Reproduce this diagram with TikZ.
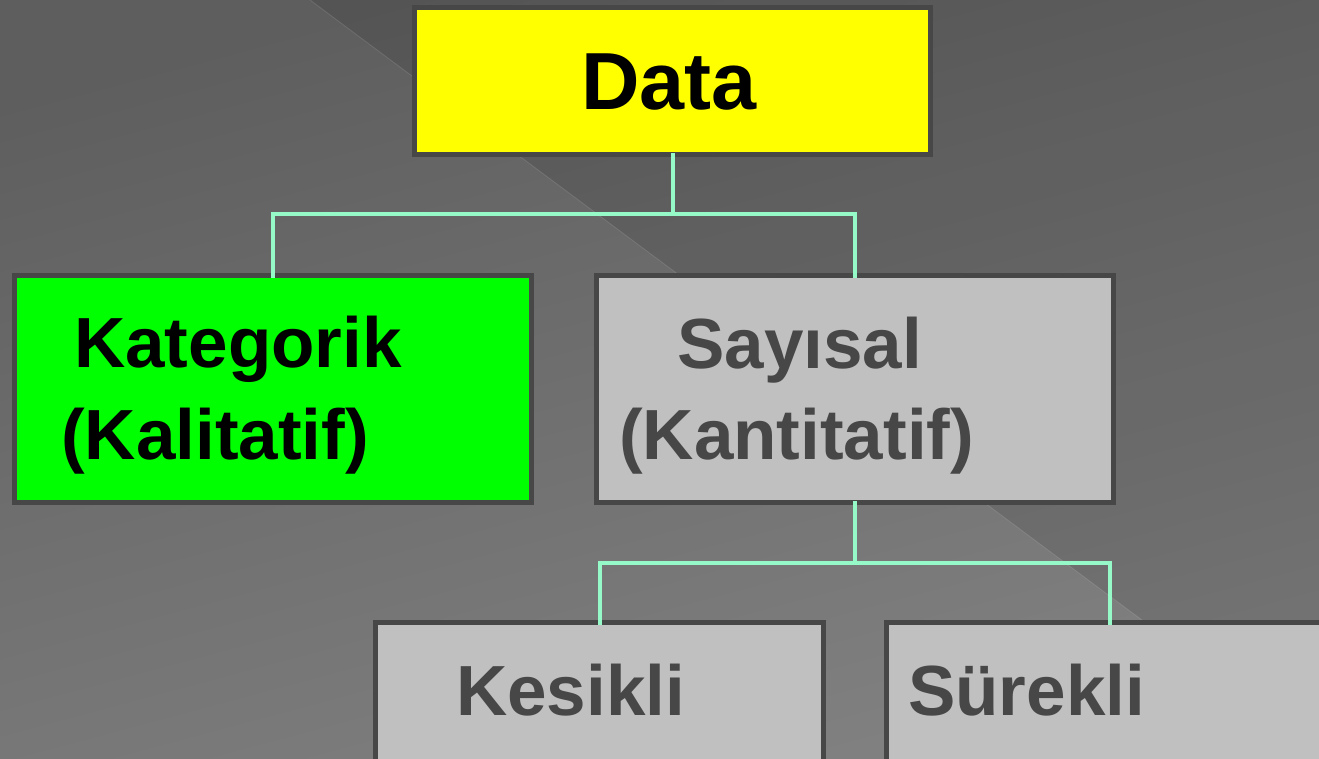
\documentclass[tikz,border=0pt]{standalone}
\usepackage{fontspec}
\setmainfont{Liberation Sans}
\begin{document}
\begin{tikzpicture}[x=1pt,y=-1pt,
  box/.style={draw=boxline, line width=5pt, rectangle, inner sep=0pt, outer sep=0pt},
  label/.style={anchor=base west, inner sep=0pt, font=\fontsize{71}{92}\selectfont\bfseries},
  link/.style={draw=linkc, line width=4pt, line cap=rect}]
\definecolor{boxline}{HTML}{474747}
\definecolor{linkc}{RGB}{150,250,200}
\definecolor{greytext}{HTML}{474747}
\definecolor{panel}{HTML}{C0C0C0}
\definecolor{topfill}{HTML}{FFFF00}
\definecolor{catfill}{HTML}{00FF00}
\definecolor{bgtop}{HTML}{5E5E5E}
\definecolor{bgbot}{HTML}{818181}

\useasboundingbox (0,0) rectangle (1319,758);
\clip (0,0) rectangle (1319,758);

% backdrop: gradient with a darker diagonal panel on the upper right
\shade[top color=bgtop, bottom color=bgbot, shading angle=15] (0,0) rectangle (1319,758);
\fill[black, opacity=0.1] (310,0) -- (1319,0) -- (1319,752) -- cycle;
\draw[white, opacity=0.12, line width=0.8pt] (310,0) -- (1319,752);

% boxes
\node[box, fill=topfill, minimum width=516pt, minimum height=147pt] (data) at (672.5,81) {};
\node[box, fill=catfill, minimum width=517pt, minimum height=227pt] (kat) at (273,389) {};
\node[box, fill=panel, minimum width=517pt, minimum height=227pt] (say) at (855,389) {};
\node[box, fill=panel, minimum width=448pt, minimum height=200pt] (kes) at (599.5,722.5) {};
\node[box, fill=panel, minimum width=448pt, minimum height=200pt] (sur) at (1110,722.5) {};

% texts
\node[label, font=\fontsize{81}{96}\selectfont\bfseries] (tdata) at (581,109) {Data};
\node[label] (tkat1) at (74,367) {Kategorik};
\node[label] (tkat2) at (61,459) {(Kalitatif)};
\node[label, text=greytext] (tsay1) at (677,368) {Sayısal};
\node[label, text=greytext] (tsay2) at (619,459) {(Kantitatif)};
\node[label, text=greytext] (tkes) at (456,715) {Kesikli};
\node[label, text=greytext] (tsur) at (908,715) {Sürekli};

% tree connectors
\coordinate (j1) at (672.5,214);
\coordinate (j2) at (855,563);
\draw[link] (data.south) -- (j1);
\draw[link] (kat.north) |- (j1) -| (say.north);
\draw[link] (say.south) -- (j2);
\draw[link] (kes.north) |- (j2) -| (sur.north);
\end{tikzpicture}
\end{document}
